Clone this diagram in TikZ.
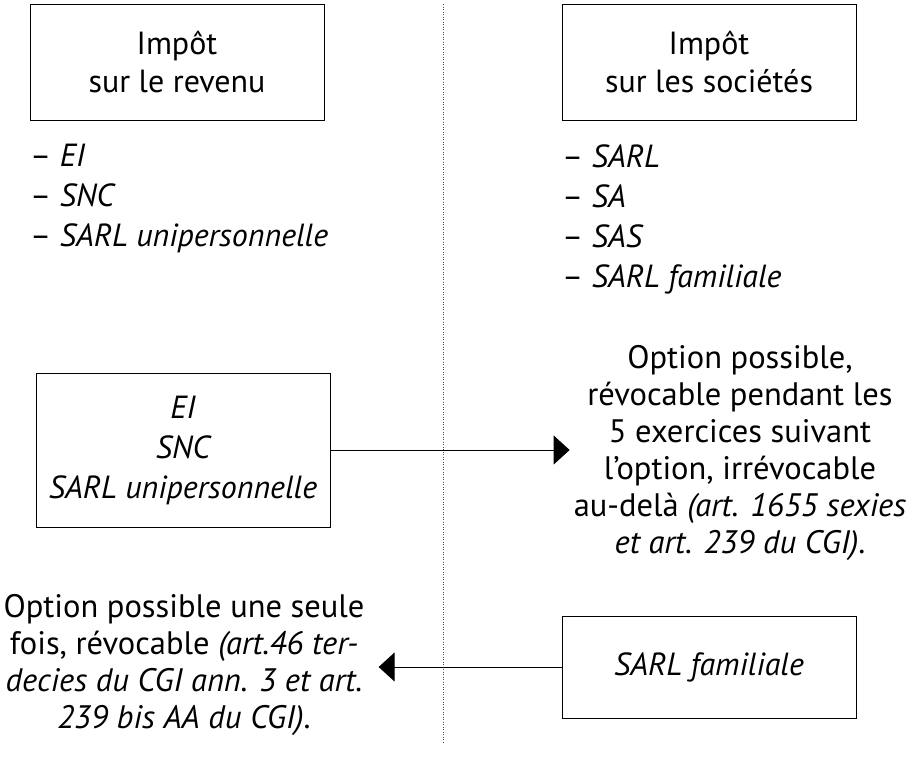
\documentclass[tikz,border=0pt]{standalone}
\usepackage{fontspec}
\setmainfont{PT Sans}
\usepackage{tikz}
\usetikzlibrary{arrows.meta,positioning,calc}
\tikzset{
  blk/.style={draw=black, line width=0.9pt, minimum width=294pt,
              align=center, inner sep=0pt, font=\fontsize{32}{38}\selectfont},
  ar/.style={-{Triangle[length=16pt,width=29pt]}, line width=0.9pt, draw=black},
  lbl/.style={align=center, inner sep=0pt, font=\fontsize{32.5}{37}\selectfont},
  lst/.style={align=left, inner sep=0pt, anchor=west, font=\fontsize{32}{40}\selectfont},
  sep/.style={dotted, line width=0.5pt, draw=black!70},
}
\begin{document}
\begin{tikzpicture}[x=1pt, y=-1pt]
  \useasboundingbox (0,0) rectangle (916,758);
  % ligne de séparation
  \coordinate (septop) at (443,4);
  \coordinate (sepbot) at (443,742);
  \draw[sep] (septop) -- (sepbot);

  % en-têtes
  \node[blk, minimum height=116pt] (ir) at (177,62) {Impôt\\sur le revenu};
  \node[blk, minimum height=116pt] (is) at (709,62) {Impôt\\sur les sociétés};

  % listes des formes
  \node[lst] (irlist) at (30,198)
       {– \textit{EI}\\– \textit{SNC}\\– \textit{SARL unipersonnelle}};
  \node[lst] (islist) at (562,219)
       {– \textit{SARL}\\– \textit{SA}\\– \textit{SAS}\\– \textit{SARL familiale}};

  % options
  \node[blk, minimum height=154pt, font=\fontsize{32}{40}\selectfont\itshape]
       (irform) at (183,450) {EI\\SNC\\SARL unipersonnelle};
  \node[lbl] (isopt) at (740,453)
       {Option possible,\\révocable pendant les\\5 exercices suivant\\
        l’option, irrévocable\\au-delà \textit{(art. 1655 sexies}\\
        \textit{et art. 239 du CGI)}.};
  \node[blk, minimum height=102pt, font=\fontsize{32}{38}\selectfont\itshape]
       (isform) at (709,667) {SARL familiale};
  \node[lbl] (iropt) at (184,665)
       {Option possible une seule\\fois, révocable \textit{(art.46 ter-}\\
        \textit{decies du CGI ann. 3 et art.}\\\textit{239 bis AA du CGI)}.};

  \draw[ar] (irform.east) -- ([xshift=-4pt]isopt.west |- irform.east);
  \draw[ar] (isform.west) -- ([xshift=14pt]iropt.east |- isform.west);
\end{tikzpicture}
\end{document}
